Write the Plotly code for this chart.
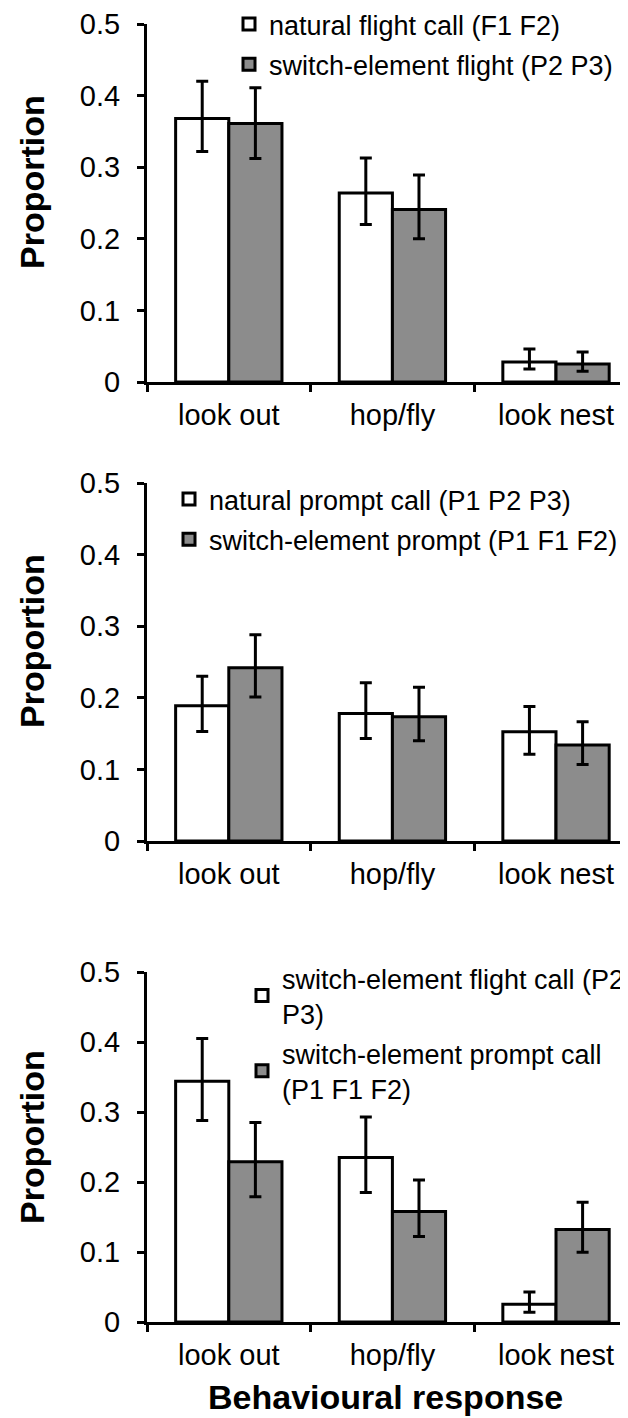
import plotly.graph_objects as go

# The page body has an 8px margin, so the figure is sized to fill the
# remaining 620x1410 viewport area; reference pixel positions are shifted.
OFF = 8
W, H = 628 - OFF, 1418 - OFF

categories = ["look out", "hop/fly", "look nest"]

# Panel 1
p1_names = ["natural flight call (F1 F2)", "switch-element flight (P2 P3)"]
p1_white = [0.368, 0.264, 0.028]
p1_white_hi = [0.420, 0.313, 0.046]
p1_white_lo = [0.322, 0.220, 0.018]
p1_grey = [0.361, 0.241, 0.025]
p1_grey_hi = [0.411, 0.289, 0.042]
p1_grey_lo = [0.312, 0.200, 0.015]

# Panel 2
p2_names = ["natural prompt call (P1 P2 P3)", "switch-element prompt (P1 F1 F2)"]
p2_white = [0.189, 0.178, 0.1525]
p2_white_hi = [0.230, 0.221, 0.188]
p2_white_lo = [0.153, 0.143, 0.121]
p2_grey = [0.242, 0.1735, 0.134]
p2_grey_hi = [0.288, 0.2146, 0.1665]
p2_grey_lo = [0.201, 0.140, 0.107]

# Panel 3
p3_names = ["switch-element flight call (P2<br>P3)", "switch-element prompt call<br>(P1 F1 F2)"]
p3_white = [0.344, 0.235, 0.0255]
p3_white_hi = [0.405, 0.293, 0.043]
p3_white_lo = [0.288, 0.185, 0.014]
p3_grey = [0.229, 0.158, 0.132]
p3_grey_hi = [0.285, 0.203, 0.171]
p3_grey_lo = [0.179, 0.122, 0.0995]

y_ticks = [0, 0.1, 0.2, 0.3, 0.4, 0.5]
y_title = "Proportion"
x_title = "Behavioural response"

FONT = "Liberation Sans, Arial, sans-serif"
GREY = "#8c8c8c"

panels = [
    (p1_names, p1_white, p1_white_hi, p1_white_lo, p1_grey, p1_grey_hi, p1_grey_lo),
    (p2_names, p2_white, p2_white_hi, p2_white_lo, p2_grey, p2_grey_hi, p2_grey_lo),
    (p3_names, p3_white, p3_white_hi, p3_white_lo, p3_grey, p3_grey_hi, p3_grey_lo),
]


def px_x(px):
    return (px - OFF) / W


def px_y(py):
    return 1 - (py - OFF) / H


# screen-pixel layout (top, bottom) of each panel's plot area
panel_px = [(24, 382), (483, 841), (972, 1322)]
x_left_px = 147
legend_pos = [(229, 0), (169, 475), (242, 954)]
ytitle_pos = [182, 641, 1137]

fig = go.Figure()
layout = dict(
    width=W, height=H,
    margin=dict(l=0, r=0, t=0, b=0, autoexpand=False),
    paper_bgcolor="white", plot_bgcolor="white",
    barmode="group", bargap=0.35, bargroupgap=0,
    showlegend=True,
    font=dict(family=FONT, color="black"),
    annotations=[],
)

for i, (names, w, whi, wlo, g, ghi, glo) in enumerate(panels):
    sfx = "" if i == 0 else str(i + 1)
    leg = "legend" if i == 0 else f"legend{i + 1}"
    for nm, vals, hi, lo, fill in ((names[0], w, whi, wlo, "white"), (names[1], g, ghi, glo, GREY)):
        fig.add_trace(go.Bar(
            x=categories, y=vals, name=nm,
            xaxis="x" + sfx, yaxis="y" + sfx,
            legend=leg, legendgroup=f"{i}-{nm}",
            marker=dict(color=fill, line=dict(color="black", width=3)),
            error_y=dict(type="data", symmetric=False,
                         array=[h - v for h, v in zip(hi, vals)],
                         arrayminus=[v - l for v, l in zip(vals, lo)],
                         color="black", thickness=3, width=6),
        ))
    top, bot = panel_px[i]
    layout["xaxis" + sfx] = dict(
        domain=[px_x(x_left_px), 1], anchor="y" + sfx,
        range=[-0.5, 2.44], type="category",
        showline=True, linecolor="black", linewidth=3,
        ticks="outside", tickson="boundaries", ticklen=7, tickwidth=3, tickcolor="black",
        ticklabelstandoff=5,
        tickfont=dict(size=29, family=FONT, color="black"),
        showgrid=False, zeroline=False, automargin=False,
    )
    layout["yaxis" + sfx] = dict(
        domain=[px_y(bot), px_y(top)], anchor="x" + sfx,
        range=[0, 0.5], tickvals=y_ticks,
        showline=True, linecolor="black", linewidth=3,
        ticks="outside", ticklen=7, tickwidth=3, tickcolor="black",
        ticklabelstandoff=11, ticklabeloverflow="allow",
        tickfont=dict(size=29, family=FONT, color="black"),
        showgrid=False, zeroline=False, automargin=False,
    )
    lx, ly = legend_pos[i]
    layout[leg] = dict(
        x=px_x(lx), y=px_y(ly), xanchor="left", yanchor="top",
        bgcolor="rgba(0,0,0,0)", borderwidth=0,
        font=dict(size=27, family=FONT, color="black"),
        tracegroupgap=2, itemclick=False, itemdoubleclick=False,
    )
    layout["annotations"].append(dict(
        text=y_title, textangle=-90, xref="paper", yref="paper",
        x=px_x(32), y=px_y(ytitle_pos[i]), xanchor="center", yanchor="middle",
        showarrow=False, font=dict(size=34, family=FONT, color="black", weight="bold"),
    ))

layout["annotations"].append(dict(
    text=x_title, xref="paper", yref="paper",
    x=px_x(385), y=0, xanchor="center", yanchor="bottom",
    showarrow=False, font=dict(size=34, family=FONT, color="black", weight="bold"),
))

fig.update_layout(**layout)
fig.write_html("out.html")
